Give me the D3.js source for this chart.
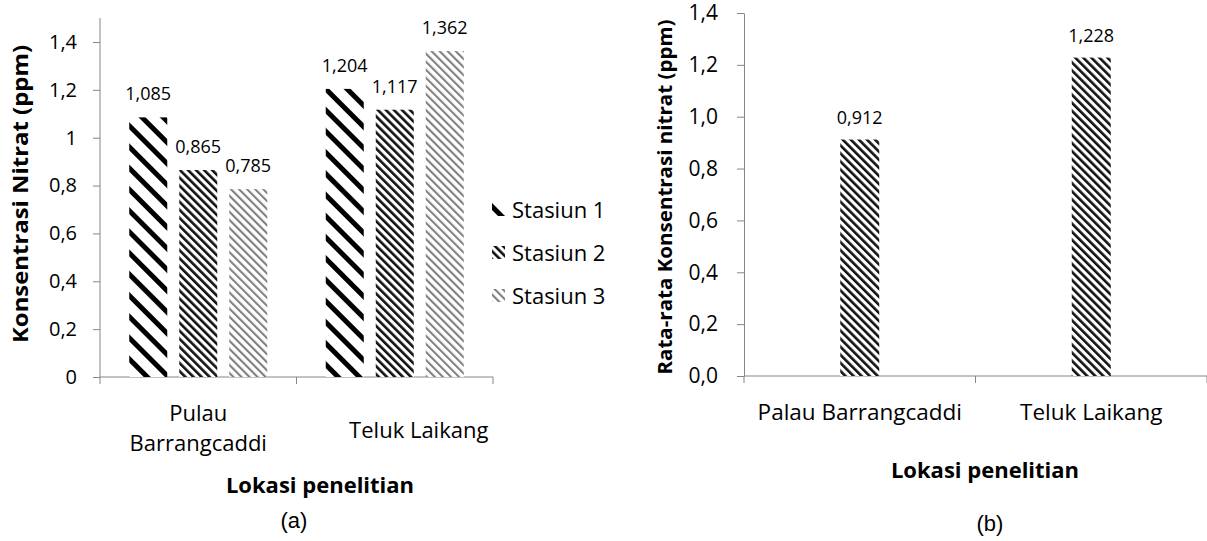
<!doctype html>
<html lang="id">
<head>
<meta charset="utf-8">
<title>Konsentrasi Nitrat</title>
<style>
    body { margin: 0; background: #fff; }
    svg text { font-family: "Open Sans", sans-serif; fill: #000; }
    .axis path, .axis line { stroke: #868686; stroke-width: 1; }
    .axis text { font-size: 20px; }
    .title { font-weight: bold; }
    .caption { font-family: "Liberation Sans", Arial, sans-serif !important; font-size: 22px; }
</style>
</head>
<body>
<svg id="chart" width="1207" height="541"></svg>

<script src="https://d3js.org/d3.v7.min.js"></script>
<script>

    // (a) nitrat per stasiun
    let categoriesA = ["Pulau Barrangcaddi", "Teluk Laikang"];
    let stations = ["Stasiun 1", "Stasiun 2", "Stasiun 3"];
    let stasiun1 = [1.085, 1.204];
    let stasiun2 = [0.865, 1.117];
    let stasiun3 = [0.785, 1.362];
    let ticksA = [0, 0.2, 0.4, 0.6, 0.8, 1, 1.2, 1.4];

    // (b) rata-rata
    let categoriesB = ["Palau Barrangcaddi", "Teluk Laikang"];
    let averages = [0.912, 1.228];
    let ticksB = [0, 0.2, 0.4, 0.6, 0.8, 1.0, 1.2, 1.4];

    let svg = d3.select("#chart");
    let defs = svg.append("defs");

    // stripe patterns (diagonal "\")
    function stripes(id, size, width, color) {
        let p = defs.append("pattern")
            .attr("id", id)
            .attr("patternUnits", "userSpaceOnUse")
            .attr("width", size).attr("height", size)
            .attr("patternTransform", "rotate(-45)");
        p.append("rect").attr("width", size).attr("height", size).attr("fill", "#fff");
        p.append("rect").attr("x", 0).attr("width", width).attr("height", size).attr("fill", color);
    }
    stripes("pat1", 15, 5, "#000");
    stripes("pat2", 5.7, 2.6, "#111");
    stripes("pat3", 5.7, 2.1, "#808080");
    let patterns = ["url(#pat1)", "url(#pat2)", "url(#pat3)"];

    let fmtA = function (d) { return String(+d.toFixed(1)).replace(".", ","); };
    let fmtB = function (d) { return d.toFixed(1).replace(".", ","); };
    let fmtVal = function (d) { return d.toFixed(3).replace(".", ","); };

    // ---------- chart (a) ----------
    let gA = svg.append("g");
    let xA = d3.scaleBand().domain(categoriesA).range([100, 493]);
    let yA = d3.scaleLinear().domain([0, 1.4]).range([377, 42]);
    let inner = d3.scaleBand().domain(stations).range([-75, 75]).paddingInner(0.24).paddingOuter(0.12);
    let seriesA = [stasiun1, stasiun2, stasiun3];

    gA.append("g").attr("class", "axis")
        .attr("transform", "translate(100,0)")
        .call(d3.axisLeft(yA).tickValues(ticksA).tickFormat(fmtA).tickSize(7).tickPadding(16).tickSizeOuter(0))
        .call(g => g.select(".domain").attr("d", "M0," + yA(0) + "V18"));

    gA.append("line")
        .attr("x1", 100).attr("x2", 493).attr("y1", yA(0)).attr("y2", yA(0))
        .attr("stroke", "#868686");
    let boundsA = [xA.range()[0]].concat(categoriesA.map(d => xA(d) + xA.bandwidth()));
    gA.selectAll(".xtick").data(boundsA).enter().append("line")
        .attr("x1", d => d).attr("x2", d => d)
        .attr("y1", yA(0)).attr("y2", yA(0) + 7)
        .attr("stroke", "#868686");

    stations.forEach(function (s, si) {
        let vals = seriesA[si];
        let cx = d => xA(categoriesA[d]) + xA.bandwidth() / 2 + inner(s);
        gA.selectAll(".bar" + si).data(d3.range(vals.length)).enter().append("rect")
            .attr("x", cx)
            .attr("width", inner.bandwidth())
            .attr("y", i => yA(vals[i]))
            .attr("height", i => yA(0) - yA(vals[i]))
            .attr("fill", patterns[si]);
        gA.selectAll(".lab" + si).data(d3.range(vals.length)).enter().append("text")
            .attr("x", i => cx(i) + inner.bandwidth() / 2)
            .attr("y", i => yA(vals[i]) - 17)
            .attr("text-anchor", "middle")
            .style("font-size", "18px")
            .text(i => fmtVal(vals[i]));
    });

    // category labels (a)
    let catA = gA.append("g").style("font-size", "22px").attr("text-anchor", "middle");
    catA.append("text").attr("x", xA(categoriesA[0]) + xA.bandwidth() / 2).attr("y", 421)
        .text("Pulau");
    catA.append("text").attr("x", xA(categoriesA[0]) + xA.bandwidth() / 2).attr("y", 451)
        .text("Barrangcaddi");
    catA.append("text").attr("x", xA(categoriesA[1]) + xA.bandwidth() / 2 + 24).attr("y", 438)
        .text(categoriesA[1]);

    // legend
    let legend = gA.append("g").selectAll("g").data(stations).enter().append("g")
        .attr("transform", (d, i) => "translate(492," + (210 + i * 43) + ")");
    legend.append("rect").attr("x", 0).attr("y", -7).attr("width", 13).attr("height", 13)
        .attr("fill", (d, i) => patterns[i]);
    legend.append("text").attr("x", 20).attr("y", 8).style("font-size", "22px").text(d => d);

    gA.append("text").attr("class", "title")
        .attr("transform", "translate(28,194) rotate(-90)")
        .attr("text-anchor", "middle").style("font-size", "21px")
        .attr("textLength", 298).attr("lengthAdjust", "spacingAndGlyphs")
        .text("Konsentrasi Nitrat (ppm)");
    gA.append("text").attr("class", "title")
        .attr("x", 320).attr("y", 493).attr("text-anchor", "middle").style("font-size", "22px")
        .text("Lokasi penelitian");
    gA.append("text").attr("class", "caption")
        .attr("x", 294).attr("y", 528).attr("text-anchor", "middle")
        .text("(a)");

    // ---------- chart (b) ----------
    let gB = svg.append("g");
    let xB = d3.scaleBand().domain(categoriesB).range([744, 1207]);
    let yB = d3.scaleLinear().domain([0, 1.4]).range([376, 13]);
    let barW = 39;

    gB.append("g").attr("class", "axis")
        .attr("transform", "translate(744,0)")
        .call(d3.axisLeft(yB).tickValues(ticksB).tickFormat(fmtB).tickSize(7).tickPadding(19).tickSizeOuter(0))
        .call(g => g.selectAll("text").style("font-size", "21px"));

    gB.append("line")
        .attr("x1", 744).attr("x2", 1207).attr("y1", yB(0)).attr("y2", yB(0))
        .attr("stroke", "#868686");
    let boundsB = [xB.range()[0]].concat(categoriesB.map(d => xB(d) + xB.bandwidth()));
    gB.selectAll(".xtick").data(boundsB).enter().append("line")
        .attr("x1", d => d).attr("x2", d => d)
        .attr("y1", yB(0)).attr("y2", yB(0) + 7)
        .attr("stroke", "#868686");

    let cxB = i => xB(categoriesB[i]) + xB.bandwidth() / 2;
    gB.selectAll(".barb").data(d3.range(averages.length)).enter().append("rect")
        .attr("x", i => cxB(i) - barW / 2)
        .attr("width", barW)
        .attr("y", i => yB(averages[i]))
        .attr("height", i => yB(0) - yB(averages[i]))
        .attr("fill", "url(#pat2)");
    gB.selectAll(".labb").data(d3.range(averages.length)).enter().append("text")
        .attr("x", cxB)
        .attr("y", i => yB(averages[i]) - 16)
        .attr("text-anchor", "middle")
        .style("font-size", "18px")
        .text(i => fmtVal(averages[i]));

    gB.selectAll(".catb").data(categoriesB).enter().append("text")
        .attr("x", (d, i) => cxB(i))
        .attr("y", 420)
        .attr("text-anchor", "middle")
        .style("font-size", "22.5px")
        .text(d => d);

    gB.append("text").attr("class", "title")
        .attr("transform", "translate(672,197) rotate(-90)")
        .attr("text-anchor", "middle").style("font-size", "20px")
        .attr("textLength", 355).attr("lengthAdjust", "spacingAndGlyphs")
        .text("Rata-rata Konsentrasi nitrat (ppm)");
    gB.append("text").attr("class", "title")
        .attr("x", 985).attr("y", 478).attr("text-anchor", "middle").style("font-size", "22px")
        .text("Lokasi penelitian");
    gB.append("text").attr("class", "caption")
        .attr("x", 990).attr("y", 531).attr("text-anchor", "middle")
        .text("(b)");

</script>
</body>
</html>
